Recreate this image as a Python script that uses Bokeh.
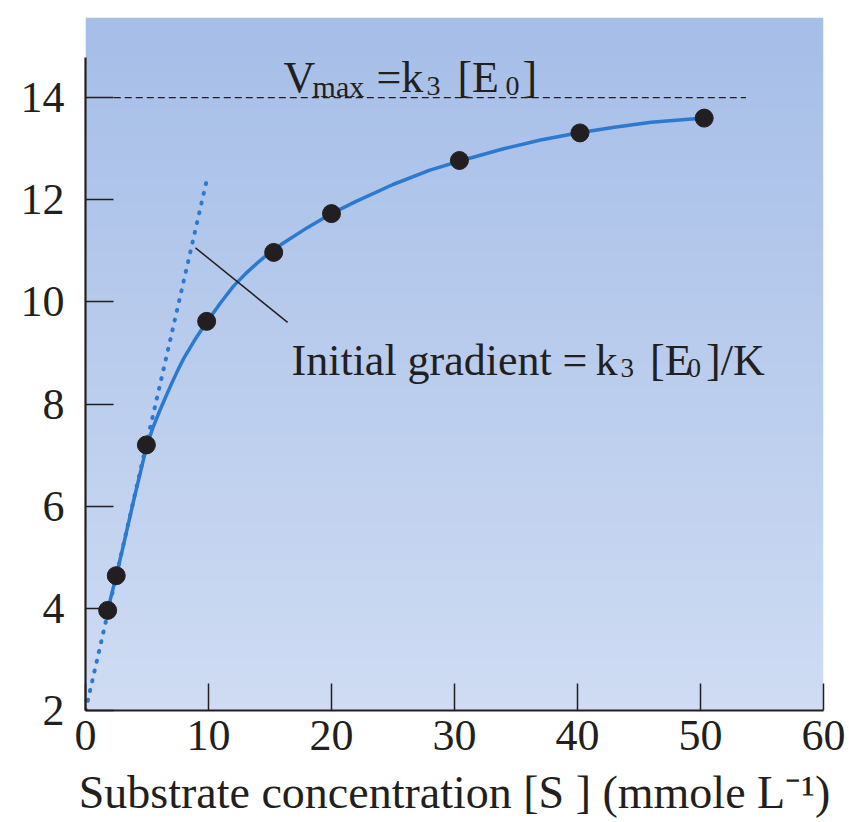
import numpy as np
from bokeh.plotting import figure
from bokeh.models import Label, FixedTicker, Range1d
from bokeh.embed import file_html
from bokeh.resources import INLINE

# ---- data ----
substrate = [1.8, 2.5, 4.95, 9.85, 15.3, 20.0, 30.4, 40.2, 50.3]
velocity = [3.96, 4.64, 7.2, 9.62, 10.97, 11.73, 12.77, 13.31, 13.6]

curve_s = [1.8, 2.5, 3, 4, 5, 5.5, 6, 6.5, 7, 7.5, 8, 8.5, 9, 9.5, 10, 11, 12, 13, 14,
           15, 16, 18, 20, 22, 25, 28, 31, 34, 37, 40, 43, 46, 50.3]
curve_v = [3.96, 4.64, 5.15, 6.2, 7.2, 7.55, 7.85, 8.13, 8.4, 8.66, 8.9, 9.1, 9.3,
           9.48, 9.65, 9.99, 10.3, 10.55, 10.77, 10.97, 11.14, 11.45, 11.73, 11.97,
           12.3, 12.58, 12.8, 13.0, 13.17, 13.31, 13.42, 13.52, 13.6]

tangent_s = [0, 9.92]
tangent_v = [2, 12.45]

vmax_value = 14
vmax_s = [2.3, 53.7]

callout_s = [8.94, 16.43]
callout_v = [11.06, 9.6]

x_ticks = [0, 10, 20, 30, 40, 50, 60]
y_ticks = [2, 4, 6, 8, 10, 12, 14]
x_title = "Substrate concentration [S ] (mmole L\u207b\u00b9)"

INK = "#231f20"
BLUE = "#2b7ad0"
FONT = "Liberation Serif"

p = figure(width=849, height=822, x_range=Range1d(0, 60), y_range=Range1d(2, 15.57),
           output_backend="svg", toolbar_location=None,
           min_border_left=85, min_border_top=17, min_border_right=26, min_border_bottom=112)
p.outline_line_color = None
p.grid.visible = False
p.background_fill_color = "#ffffff"
p.border_fill_color = "#ffffff"

# gradient background (styling)
n = 128
top = np.array([166, 190, 232], dtype=float)
bot = np.array([207, 220, 243], dtype=float)
t = np.linspace(0, 1, n)[:, None]
cols = (bot * (1 - t) + top * t).astype(np.uint32)
img = np.empty((n, 2), dtype=np.uint32)
view = img.view(dtype=np.uint8).reshape((n, 2, 4))
for j in range(2):
    view[:, j, 0] = cols[:, 0]
    view[:, j, 1] = cols[:, 1]
    view[:, j, 2] = cols[:, 2]
    view[:, j, 3] = 255
p.image_rgba(image=[img], x=0, y=2, dw=60, dh=13.57)

# initial gradient (dotted)
p.line(tangent_s, tangent_v, line_color=BLUE, line_width=4, line_dash="1 9", line_cap="round")
# fitted curve
p.line(curve_s, curve_v, line_color=BLUE, line_width=3.5, line_join="round", line_cap="round")
# Vmax dashed line
p.line(vmax_s, [vmax_value, vmax_value], line_color=INK, line_width=1.2, line_dash="7 4")
# callout
p.line(callout_s, callout_v, line_color=INK, line_width=1.5)
# points
p.scatter(substrate, velocity, size=18, color=INK)

# axes
for ax in (p.xaxis[0], p.yaxis[0]):
    ax.axis_line_color = INK
    ax.axis_line_width = 2.2
    ax.major_tick_line_color = INK
    ax.major_tick_line_width = 1.5
    ax.major_tick_out = 0
    ax.minor_tick_line_color = None
    ax.major_label_text_font = FONT
    ax.major_label_text_font_size = "44px"
    ax.major_label_text_color = INK
p.xaxis.ticker = FixedTicker(ticks=x_ticks)
p.yaxis.ticker = FixedTicker(ticks=y_ticks)
p.xaxis.major_tick_in = 27
p.yaxis.major_tick_in = 28
p.xaxis.major_label_standoff = 10
p.yaxis.major_label_standoff = 21
p.yaxis.bounds = (2, 14.78)
p.xaxis.bounds = (0, 60)
p.xaxis.axis_label = x_title
p.xaxis.axis_label_text_font = FONT
p.xaxis.axis_label_text_font_size = "46px"
p.xaxis.axis_label_text_font_style = "normal"
p.xaxis.axis_label_text_color = INK
p.xaxis.axis_label_standoff = 14


def lab(x, y, text, size):
    p.add_layout(Label(x=x, y=y, text=text, text_font=FONT, text_font_size=size,
                       text_color=INK, text_baseline="alphabetic", text_align="left"))


# Vmax = k3 [E0]
lab(16.10, 14.39, "V", "44px")
lab(18.46, 14.22, "max", "30px")
lab(23.66, 14.39, "=k", "44px")
lab(27.72, 14.22, "3", "28px")
lab(30.24, 14.39, "[E", "44px")
lab(34.15, 14.22, "0", "28px")
lab(35.53, 14.39, "]", "44px")

# Initial gradient = k3 [E0]/K
lab(16.75, 8.85, "Initial gradient", "44px")
lab(38.78, 8.85, "=", "44px")
lab(41.46, 8.85, "k", "44px")
lab(43.5, 8.70, "3", "27px")
lab(45.9, 8.85, "[E", "44px")
lab(48.94, 8.70, "0", "27px")
lab(50.45, 8.85, "]/K", "44px")

open("out.html", "w").write(file_html(p, INLINE))
